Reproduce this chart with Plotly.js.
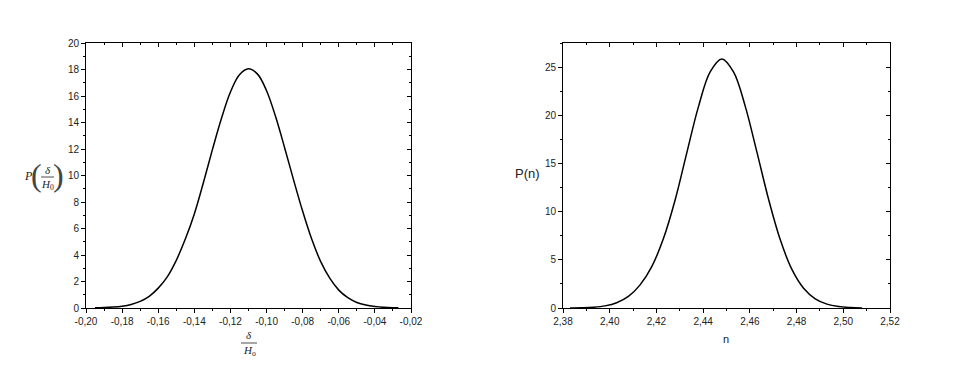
<!DOCTYPE html>
<html>
<head>
<meta charset="utf-8">
<script src="https://cdn.plot.ly/plotly-3.0.1.min.js"></script>
<style>
  html, body { margin: 0; padding: 0; background: #fff; }
  #chart { width: 956px; height: 371px; }
</style>
</head>
<body>
<div id="chart"></div>
<script>
// --- Data ---
// left panel: distribution of delta / H0
const deltaX = [-0.195, -0.190, -0.185, -0.180, -0.175, -0.170, -0.165, -0.160, -0.155, -0.150,
  -0.145, -0.140, -0.135, -0.130, -0.125, -0.120, -0.115, -0.110, -0.105, -0.100,
  -0.095, -0.090, -0.085, -0.080, -0.075, -0.070, -0.065, -0.060, -0.055, -0.050,
  -0.045, -0.040, -0.035, -0.030, -0.027];
const deltaP = [0.01, 0.03, 0.07, 0.14, 0.27, 0.50, 0.88, 1.50, 2.35, 3.60,
  5.20, 7.10, 9.45, 11.95, 14.30, 16.30, 17.60, 18.05, 17.65, 16.40,
  14.45, 12.10, 9.65, 7.30, 5.20, 3.50, 2.25, 1.35, 0.78, 0.42,
  0.22, 0.11, 0.05, 0.02, 0.01];

// right panel: distribution of n
const nX = [2.383, 2.388, 2.393, 2.398, 2.403, 2.408, 2.413, 2.418, 2.423, 2.428,
  2.433, 2.438, 2.443, 2.448, 2.453, 2.458, 2.463, 2.468, 2.473, 2.478,
  2.483, 2.488, 2.493, 2.498, 2.503, 2.508];
const nP = [0.01, 0.03, 0.08, 0.22, 0.55, 1.20, 2.40, 4.30, 7.20, 11.20,
  16.10, 20.90, 24.50, 25.85, 24.50, 20.95, 16.20, 11.30, 7.10, 4.00,
  2.05, 0.95, 0.40, 0.15, 0.05, 0.01];

// tick labels (comma decimals, plain hyphen)
const leftXTicks = [-0.20, -0.18, -0.16, -0.14, -0.12, -0.10, -0.08, -0.06, -0.04, -0.02];
const leftXText = ["-0,20", "-0,18", "-0,16", "-0,14", "-0,12", "-0,10", "-0,08", "-0,06", "-0,04", "-0,02"];
const rightXTicks = [2.38, 2.40, 2.42, 2.44, 2.46, 2.48, 2.50, 2.52];
const rightXText = ["2,38", "2,40", "2,42", "2,44", "2,46", "2,48", "2,50", "2,52"];

// --- Styling ---
const W = 956, H = 371;
const px = (v) => v / W;
const py = (v) => 1 - v / H;
const tickFont = { family: "Liberation Sans, Arial, sans-serif", size: 10, color: "#222" };
const serif = "Liberation Serif, Times New Roman, serif";

const xDomL = [px(86), px(411)];
const xDomR = [px(563), px(890)];
const yDom = [py(308), py(43)];

const baseAxis = {
  showgrid: false,
  zeroline: false,
  showline: true,
  linecolor: "#000",
  linewidth: 1,
  mirror: true,
  ticks: "outside",
  ticklen: 4,
  tickcolor: "#000",
  tickwidth: 1,
  tickfont: tickFont,
  minor: { ticks: "outside", ticklen: 2, tickcolor: "#000", tickwidth: 1 },
};
const innerAxis = {
  showgrid: false,
  zeroline: false,
  showline: false,
  showticklabels: false,
  ticks: "inside",
  ticklen: 4,
  tickcolor: "#000",
  tickwidth: 1,
  minor: { ticks: "inside", ticklen: 2, tickcolor: "#000", tickwidth: 1 },
};

const curve = (x, y, xa, ya, visible) => ({
  x, y, xaxis: xa, yaxis: ya,
  type: "scatter", mode: "lines",
  line: { color: visible ? "#000" : "rgba(0,0,0,0)", width: 1.5, shape: "spline" },
  hoverinfo: "skip",
});

const traces = [
  curve(deltaX, deltaP, "x", "y", true),
  curve(nX, nP, "x2", "y2", true),
  // carriers for the inward mirrored ticks
  curve(deltaX, deltaP, "x3", "y3", false),
  curve(nX, nP, "x4", "y4", false),
];

const ann = (text, x, y, font) => ({
  text, x: px(x), y: py(y), xref: "paper", yref: "paper",
  xanchor: "center", yanchor: "middle", showarrow: false, font,
});
const serifFont = { family: serif, size: 11, color: "#222" };
const sansTitle = (size) => ({ family: "Liberation Sans, Arial, sans-serif", size, color: "#222" });
const parenFont = { family: serif, size: 32, color: "#444" };

const layout = {
  width: W,
  height: H,
  margin: { l: 0, r: 0, t: 0, b: 0 },
  paper_bgcolor: "#fff",
  plot_bgcolor: "#fff",
  showlegend: false,
  xaxis: {
    ...baseAxis, domain: xDomL, anchor: "y", range: [-0.2, -0.02],
    tickvals: leftXTicks, ticktext: leftXText,
    minor: { ...baseAxis.minor, dtick: 0.01, tick0: -0.2 },
  },
  yaxis: {
    ...baseAxis, domain: yDom, anchor: "x", range: [0, 20],
    dtick: 2, tick0: 0,
    minor: { ...baseAxis.minor, dtick: 1 },
  },
  xaxis2: {
    ...baseAxis, domain: xDomR, anchor: "y2", range: [2.38, 2.52],
    tickvals: rightXTicks, ticktext: rightXText,
    minor: { ...baseAxis.minor, dtick: 0.01, tick0: 2.38 },
  },
  yaxis2: {
    ...baseAxis, domain: yDom, anchor: "x2", range: [0, 27.5],
    dtick: 5, tick0: 0,
    minor: { ...baseAxis.minor, dtick: 2.5 },
  },
  // mirrored ticks pointing inward on top / right
  xaxis3: {
    ...innerAxis, overlaying: "x", anchor: "y3", side: "top", range: [-0.2, -0.02],
    dtick: 0.02, tick0: -0.2, minor: { ...innerAxis.minor, dtick: 0.01 },
  },
  yaxis3: {
    ...innerAxis, overlaying: "y", anchor: "x3", side: "right", range: [0, 20],
    dtick: 2, tick0: 0, minor: { ...innerAxis.minor, dtick: 1 },
  },
  xaxis4: {
    ...innerAxis, overlaying: "x2", anchor: "y4", side: "top", range: [2.38, 2.52],
    dtick: 0.02, tick0: 2.38, minor: { ...innerAxis.minor, dtick: 0.01 },
  },
  yaxis4: {
    ...innerAxis, overlaying: "y2", anchor: "x4", side: "right", range: [0, 27.5],
    dtick: 5, tick0: 0, minor: { ...innerAxis.minor, dtick: 2.5 },
  },
  shapes: [
    // fraction bars of the left titles
    { type: "line", xref: "paper", yref: "paper", x0: px(41), x1: px(54), y0: py(177), y1: py(177),
      line: { color: "#222", width: 0.8 } },
    { type: "line", xref: "paper", yref: "paper", x0: px(241), x1: px(257), y0: py(343), y1: py(343),
      line: { color: "#222", width: 0.8 } },
  ],
  annotations: [
    // left y title: P( delta / H0 )
    ann("<i>P</i>", 28, 176, { family: serif, size: 12, color: "#222" }),
    ann("(", 36, 175, parenFont),
    ann(")", 58, 175, parenFont),
    ann("<i>δ</i>", 47.5, 170, serifFont),
    ann("<i>H</i><sub>0</sub>", 47.5, 185, serifFont),
    // left x title: delta / H0
    ann("<i>δ</i>", 249, 335, serifFont),
    ann("<i>H</i><sub>o</sub>", 249, 351, serifFont),
    // right titles
    ann("P(n)", 527, 174, sansTitle(13)),
    ann("n", 726, 339, sansTitle(11)),
  ],
};

Plotly.newPlot("chart", traces, layout, { staticPlot: true, displayModeBar: false });
</script>
</body>
</html>
